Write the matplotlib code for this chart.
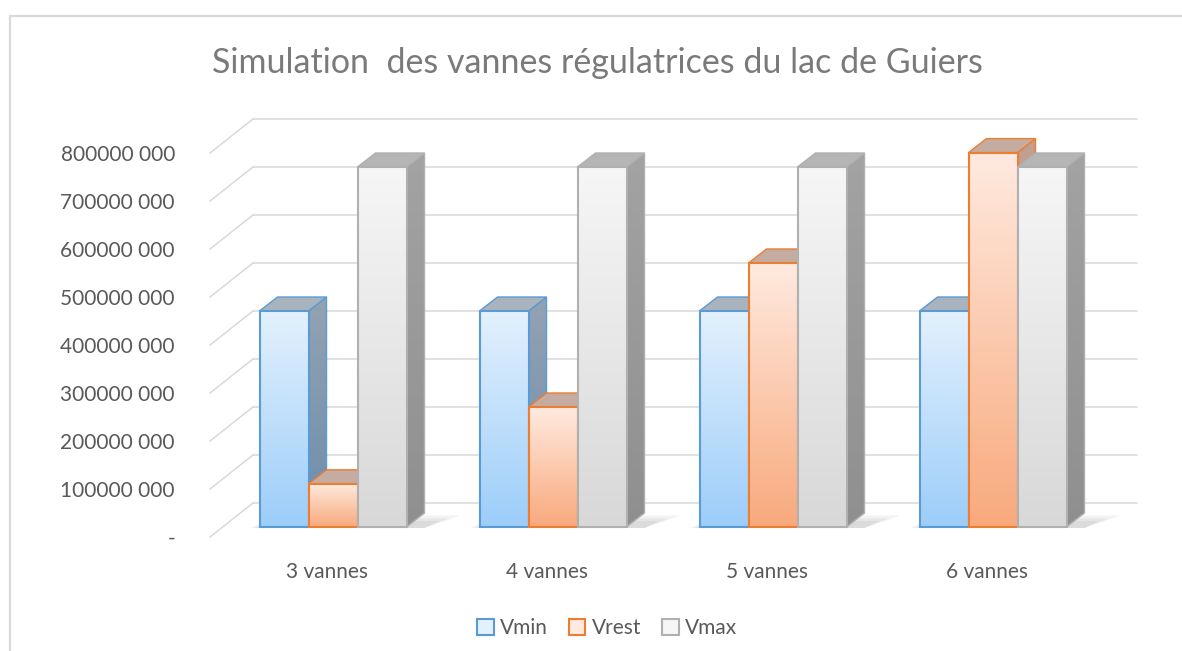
import numpy as np
import matplotlib
matplotlib.use("Agg")
import matplotlib.pyplot as plt
from matplotlib.patches import Polygon, Patch, Rectangle
from matplotlib.colors import LinearSegmentedColormap

categories = ["3 vannes", "4 vannes", "5 vannes", "6 vannes"]
series_names = ["Vmin", "Vrest", "Vmax"]
vmin_values = [450e6, 450e6, 450e6, 450e6]
vrest_values = [90e6, 250e6, 550e6, 780e6]
vmax_values = [750e6, 750e6, 750e6, 750e6]
ytick_values = [0, 100e6, 200e6, 300e6, 400e6, 500e6, 600e6, 700e6, 800e6]
ytick_labels = ["-", "100000 000", "200000 000", "300000 000", "400000 000",
                "500000 000", "600000 000", "700000 000", "800000 000"]
title = "Simulation  des vannes régulatrices du lac de Guiers"

# face colours: front top, front bottom, edge, side top, side bottom, top face
styles = {
    "Vmin": ("#e3f1fd", "#9ccdf9", "#5b9bd5", "#93a3b3", "#6d8cab", "#a9b3bd"),
    "Vrest": ("#ffeae0", "#f8a97c", "#ed7d31", "#c2a091", "#b38470", "#c4aca0"),
    "Vmax": ("#f6f6f6", "#d8d8d8", "#b0b0b0", "#a3a3a3", "#8f8f8f", "#b5b5b5"),
}

FIG_W, FIG_H = 1182, 651
AX_L, AX_R, AX_T, AX_B = 200, 1150, 100, 556
CAT0, CAT_STEP = 333, 220
ZERO_Y, PX_PER_UNIT = 527, 0.48e-6

FONT = ["Lato", "DejaVu Sans"]
TXT = "#595959"


def dx(px):
    return px / CAT_STEP


def dy(px):
    return px / PX_PER_UNIT


def gradient(ax, patch, extent, c_top, c_bot, z):
    cmap = LinearSegmentedColormap.from_list("g", [c_bot, c_top])
    grad = np.linspace(0, 1, 256).reshape(-1, 1)
    im = ax.imshow(grad, extent=extent, origin="lower", cmap=cmap,
                   aspect="auto", zorder=z, interpolation="bicubic")
    im.set_clip_path(patch)


fig = plt.figure(figsize=(FIG_W / 100, FIG_H / 100), dpi=100)
ax = fig.add_axes([AX_L / FIG_W, 1 - AX_B / FIG_H,
                   (AX_R - AX_L) / FIG_W, (AX_B - AX_T) / FIG_H])

bar_w = dx(49)
d_x, d_y = dx(18), dy(14)          # bar depth
floor_x, floor_y = dx(210 - CAT0), dy(-10)   # front edge of the floor
wall_x, wall_y = dx(253 - CAT0), dy(24)      # back wall
wall_r = dx(1137 - CAT0)

# back wall grid and floor diagonals
for v in ytick_values:
    ax.plot([wall_x, wall_r], [v + wall_y] * 2, color="#d9d9d9", lw=1.1, zorder=1)
    ax.plot([floor_x, wall_x], [v + floor_y, v + wall_y], color="#d9d9d9", lw=1.1, zorder=1)

x = np.arange(len(categories))
all_values = [vmin_values, vrest_values, vmax_values]
offsets = [-bar_w, 0, bar_w]

# soft floor shadow behind each group, a few faint layers
for xi in x:
    xl = xi - 1.5 * bar_w
    xr = xi + 1.5 * bar_w
    for k, grow in enumerate([0, 10, 22]):
        sh = Polygon([(xl - dx(2 + grow / 3), dy(-1)), (xr + d_x, dy(-1)),
                      (xr + d_x + dx(14 + grow), dy(6 + grow / 4)), (xl + d_x, dy(6 + grow / 4))],
                     closed=True, facecolor="#606060", edgecolor="none", alpha=0.08, zorder=2)
        ax.add_patch(sh)

for j, (name, vals) in enumerate(zip(series_names, all_values)):
    ft, fb, ec, st, sb, tc = styles[name]
    z = 10 + 3 * j
    for xi, h in zip(x + offsets[j], vals):
        xl, xr = xi - bar_w / 2, xi + bar_w / 2
        side = Polygon([(xr, 0), (xr + d_x, d_y), (xr + d_x, h + d_y), (xr, h)],
                       closed=True, facecolor="none", edgecolor=ec, lw=1.0, zorder=z + 0.5)
        ax.add_patch(side)
        gradient(ax, side, [xr, xr + d_x, 0, h + d_y], st, sb, z)
        top = Polygon([(xl, h), (xr, h), (xr + d_x, h + d_y), (xl + d_x, h + d_y)],
                      closed=True, facecolor=tc, edgecolor=ec, lw=1.0, zorder=z + 0.6)
        ax.add_patch(top)
    bars = ax.bar(x + offsets[j], vals, width=bar_w, facecolor="none",
                  edgecolor=ec, lw=1.5, zorder=z + 2)
    for b in bars:
        gradient(ax, b, [b.get_x(), b.get_x() + b.get_width(), 0, b.get_height()],
                 ft, fb, z + 1.5)

ax.set_xlim(dx(AX_L - CAT0), dx(AX_R - CAT0))
ax.set_ylim(dy(ZERO_Y - AX_B), dy(ZERO_Y - AX_T))
ax.set_yticks([v + floor_y for v in ytick_values], labels=ytick_labels)
ax.set_xticks(x - dx(6), labels=categories)
ax.tick_params(axis="y", length=0, pad=18, labelsize=15, labelcolor=TXT)
ax.tick_params(axis="x", length=0, pad=4, labelsize=15, labelcolor=TXT)
for lab in ax.get_xticklabels() + ax.get_yticklabels():
    lab.set_family(FONT)
for s in ax.spines.values():
    s.set_visible(False)

fig.text(597 / FIG_W, 1 - 63 / FIG_H, title, ha="center", va="center",
         fontsize=24.5, color="#7a7a7a", family=FONT)

handles = [Patch(facecolor=styles[n][0], edgecolor=styles[n][2], lw=1.5) for n in series_names]
fig.legend(handles, series_names, loc="center", bbox_to_anchor=(607 / FIG_W, 1 - 628 / FIG_H),
           ncol=3, frameon=False, handlelength=0.8, handleheight=0.8, handletextpad=0.3,
           columnspacing=1.0, prop={"family": FONT, "size": 15}, labelcolor=TXT)

fig.patches.append(Rectangle((10 / FIG_W, -0.1), 1.2, 1.1 - 16 / FIG_H,
                             transform=fig.transFigure, fill=False,
                             edgecolor="#d9d9d9", lw=1.6))

fig.savefig("out.png", dpi=100)
